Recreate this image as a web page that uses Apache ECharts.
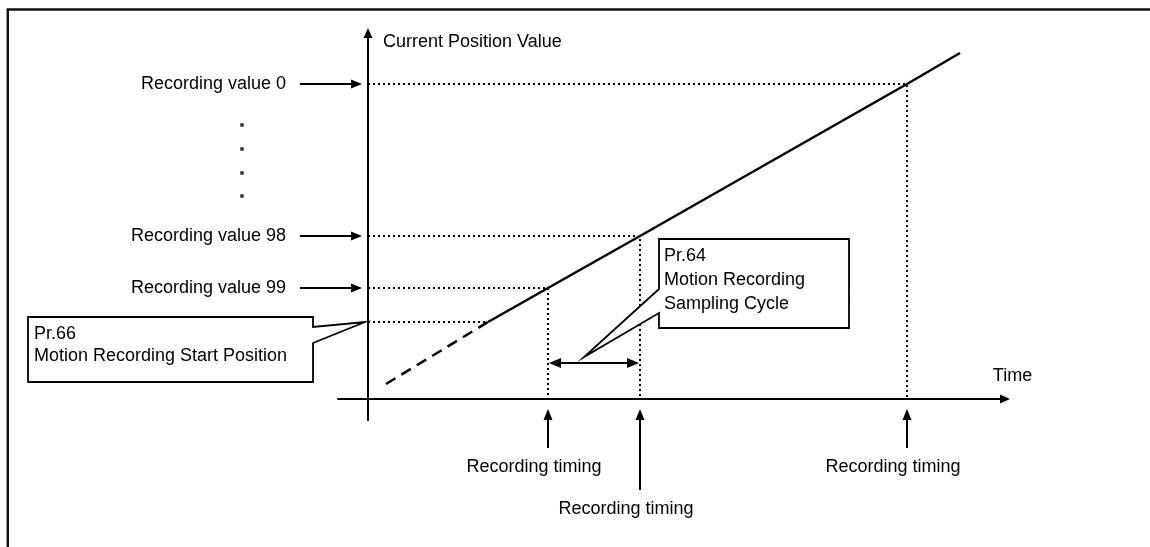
<!DOCTYPE html>
<html>
<head>
<meta charset="utf-8">
<title>Motion recording</title>
<script src="https://cdn.jsdelivr.net/npm/echarts@6/dist/echarts.min.js"></script>
<style>
html, body { margin: 0; padding: 0; background: #fff; }
#chart { width: 1150px; height: 547px; }
</style>
</head>
<body>
<div id="chart"></div>
<script>
// time / position in arbitrary units (about 10px per unit on the drawing)
var recordLabels = ['Recording value 0', 'Recording value 98', 'Recording value 99'];
var recordTimes = [53.9, 27.2, 18.0];
var recordValues = [31.5, 16.3, 11.1];
var startTime = 12.0;
var startValue = 7.7;
var lineBeforeStart = [[1.8, 1.5], [12.0, 7.7]];
var lineAfterStart = [[12.0, 7.7], [18.0, 11.1], [27.2, 16.3], [53.9, 31.5], [59.2, 34.6]];
var timingLabel = 'Recording timing';
var ellipsisDots = [[-12.6, 27.4], [-12.6, 25.0], [-12.6, 22.6], [-12.6, 20.3]];
var startCallout = ['Pr.66', 'Motion Recording Start Position'];
var cycleCallout = ['Pr.64', 'Motion Recording', 'Sampling Cycle'];

var FONT = '"Liberation Sans", Arial, sans-serif';
var INK = '#000';

function arrowTo(x1, y1, x2, y2, len, w) {
	var dx = x2 - x1, dy = y2 - y1;
	var d = Math.sqrt(dx * dx + dy * dy);
	var ux = dx / d, uy = dy / d;
	var bx = x2 - ux * len, by = y2 - uy * len;
	return [
		{type: 'line', shape: {x1: x1, y1: y1, x2: bx + ux, y2: by + uy}, style: {stroke: INK, lineWidth: 2}},
		{type: 'polygon', shape: {points: [[x2, y2], [bx - uy * w / 2, by + ux * w / 2], [bx + uy * w / 2, by - ux * w / 2]]}, style: {fill: INK}}
	];
}

function label(text, x, y, align, vAlign, lh) {
	return {
		type: 'text',
		style: {text: text, x: x, y: y, fill: INK, fontSize: 18, fontFamily: FONT,
			align: align || 'left', verticalAlign: vAlign || 'middle', lineHeight: lh}
	};
}

// dotted guides: horizontal from the position axis, vertical down to the time axis
function renderGuide(params, api) {
	var p = api.coord([api.value(0), api.value(1)]);
	var o = api.coord([0, 0]);
	var pts = [[o[0], p[1]], p];
	if (api.value(2)) pts.push([p[0], o[1]]);
	return {type: 'polyline', shape: {points: pts}, style: {stroke: INK, lineWidth: 2, lineDash: [2, 3], fill: null}};
}

function renderValueArrow(params, api) {
	var p = api.coord([0, api.value(1)]);
	var kids = arrowTo(p[0] - 68, p[1], p[0] - 6, p[1], 11, 9);
	kids.push(label(recordLabels[params.dataIndex], p[0] - 82, p[1], 'right'));
	return {type: 'group', children: kids};
}

var timesAsc = recordTimes.slice().sort(function (a, b) { return a - b; });

function renderTiming(params, api) {
	var i = params.dataIndex;
	var p = api.coord([api.value(0), 0]);
	var prev = i > 0 ? api.coord([timesAsc[i - 1], 0]) : null;
	// stagger a label when it would collide with the previous one
	var tail = p[1] + (prev && p[0] - prev[0] < 140 ? 91 : 49);
	var kids = arrowTo(p[0], tail, p[0], p[1] + 10, 11, 9);
	kids.push(label(timingLabel, p[0] - 14, tail + 19, 'center'));
	return {type: 'group', children: kids};
}

function renderCycle(params, api) {
	var a = api.coord([api.value(0), 0]);
	var b = api.coord([api.value(1), 0]);
	var y = a[1] - 36;
	var kids = arrowTo(b[0] - 20, y, b[0] - 1, y, 12, 10)
		.concat(arrowTo(a[0] + 20, y, a[0] + 1, y, 12, 10));
	kids.push({type: 'line', shape: {x1: a[0] + 10, y1: y, x2: b[0] - 10, y2: y}, style: {stroke: INK, lineWidth: 2}});
	return {type: 'group', children: kids};
}

var calloutLayout = [
	{box: [-340, -5, -55, 60], notch: [5, 21], tip: [-3, 0], text: [-334, 1.5], lh: 22, dy: 0, lines: startCallout},
	{box: [65, -124, 255, -35], notch: [-74, -50], tip: [-10, -6], text: [70, -118.5], lh: 24, dy: -36, lines: cycleCallout}
];

function renderCallout(params, api) {
	var c = calloutLayout[params.dataIndex];
	var o = api.coord([api.value(0), api.value(1)]);
	var ax = o[0], ay = o[1] + c.dy;
	var l = ax + c.box[0], t = ay + c.box[1], r = ax + c.box[2], b = ay + c.box[3];
	var n1 = ay + c.notch[0], n2 = ay + c.notch[1];
	var tip = [ax + c.tip[0], ay + c.tip[1]];
	var pts = tip[0] > r
		? [[l, t], [r, t], [r, n1], tip, [r, n2], [r, b], [l, b]]
		: [[l, t], [r, t], [r, b], [l, b], [l, n2], tip, [l, n1]];
	return {
		type: 'group',
		children: [
			{type: 'polygon', shape: {points: pts}, style: {fill: '#fff', stroke: INK, lineWidth: 1.8}},
			label(c.lines.join('\n'), ax + c.text[0], ay + c.text[1], 'left', 'top', c.lh)
		]
	};
}

var chart = echarts.init(document.getElementById('chart'));
var option = {
	animation: false,
	backgroundColor: '#fff',
	graphic: [{
		type: 'rect', silent: true,
		shape: {x: 7.8, y: 9.5, width: 1200, height: 600},
		style: {fill: 'none', stroke: '#111', lineWidth: 2.4}
	}],
	grid: {left: 338, right: 145, top: 33, bottom: 127, outerBoundsMode: 'none'},
	xAxis: {
		type: 'value', min: -3, max: 63.7,
		name: 'Time', nameLocation: 'end', nameGap: 7.5,
		nameTextStyle: {color: INK, fontSize: 18, fontFamily: FONT, align: 'center', verticalAlign: 'bottom', padding: [0, 0, 14, 0]},
		axisLine: {onZero: true, symbol: ['none', 'triangle'], symbolSize: [9, 10], lineStyle: {color: INK, width: 2}},
		axisTick: {show: false}, axisLabel: {show: false}, splitLine: {show: false}
	},
	yAxis: {
		type: 'value', min: -2.1, max: 36.6,
		name: 'Current Position Value', nameLocation: 'end', nameGap: -9,
		nameTextStyle: {color: INK, fontSize: 18, fontFamily: FONT, align: 'left', verticalAlign: 'middle', padding: [0, 0, 0, 15]},
		axisLine: {onZero: true, symbol: ['none', 'triangle'], symbolSize: [9, 10], lineStyle: {color: INK, width: 2}},
		axisTick: {show: false}, axisLabel: {show: false}, splitLine: {show: false}
	},
	series: [
		{
			type: 'custom', name: 'guides', silent: true, clip: false,
			renderItem: renderGuide,
			data: recordTimes.map(function (t, i) { return [t, recordValues[i], 1]; }).concat([[startTime, startValue, 0]])
		},
		{
			type: 'line', name: 'before start', silent: true, clip: false, z: 3,
			symbol: 'none', data: lineBeforeStart,
			lineStyle: {color: INK, width: 2.5, type: [11, 7]}
		},
		{
			type: 'line', name: 'current position', silent: true, clip: false, z: 3,
			symbol: 'none', data: lineAfterStart,
			lineStyle: {color: INK, width: 2.5}
		},
		{
			type: 'custom', name: 'recording values', silent: true, clip: false,
			renderItem: renderValueArrow,
			data: recordValues.map(function (v) { return [0, v]; })
		},
		{
			type: 'custom', name: 'recording timing', silent: true, clip: false,
			renderItem: renderTiming,
			data: timesAsc.map(function (t) { return [t, 0]; })
		},
		{
			type: 'custom', name: 'sampling cycle', silent: true, clip: false,
			renderItem: renderCycle,
			data: [[recordTimes[2], recordTimes[1]]]
		},
		{
			type: 'custom', name: 'callouts', silent: true, clip: false, z: 4,
			renderItem: renderCallout,
			data: [[0, startValue], [(recordTimes[2] + recordTimes[1]) / 2, 0]]
		},
		{
			type: 'scatter', name: 'ellipsis', silent: true, clip: false,
			symbol: 'rect', symbolSize: 3.5, itemStyle: {color: INK},
			data: ellipsisDots
		}
	]
};
chart.setOption(option);
</script>
</body>
</html>
